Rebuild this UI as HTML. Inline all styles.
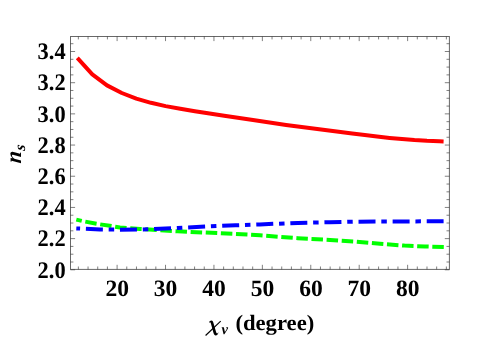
<!DOCTYPE html>
<html><head><meta charset="utf-8"><title>plot</title>
<style>
html,body{margin:0;padding:0;background:#fff;}
body{width:485px;height:339px;overflow:hidden;font-family:"Liberation Serif",serif;}
svg{display:block;will-change:transform;}
text{font-family:"Liberation Serif",serif;font-weight:bold;font-size:22px;fill:#000;text-rendering:geometricPrecision;}
</style></head><body>
<svg width="485" height="339" viewBox="0 0 485 339">

<g fill="none" stroke-linejoin="round">
<path d="M76.3,219.6 L85.0,221.6 L96.5,223.8 L111.6,226.1 L120.0,227.4 L140.0,229.0 L177.7,231.3 L235.5,233.9 L260.0,235.3 L297.7,238.2 L330.0,240.0 L355.5,241.7 L380.0,243.8 L404.4,245.6 L425.0,246.5 L443.9,247.1" stroke="#00ff00" stroke-width="4" stroke-dasharray="11.5 3.635" stroke-dashoffset="5.9"/>
<path d="M76.3,228.4 L100.0,229.4 L120.0,229.7 L140.0,229.6 L160.0,228.8 L177.7,227.9 L205.0,226.6 L235.5,225.3 L260.0,224.4 L297.7,222.9 L330.0,222.2 L355.5,221.7 L379.6,221.5 L443.6,221.3" stroke="#0000ff" stroke-width="4" stroke-dasharray="17 5.8 5.5 5.8" stroke-dashoffset="24.5"/>
<path d="M77.3,57.8 L92.3,74.3 L107.0,85.4 L121.8,93.0 L136.3,98.6 L151.0,102.8 L165.6,106.1 L180.3,108.8 L194.9,111.2 L209.6,113.5 L224.2,115.8 L253.0,120.1 L286.1,124.9 L319.2,129.2 L352.2,133.5 L364.8,135.1 L377.0,136.6 L389.6,137.9 L402.0,139.1 L414.4,140.1 L427.0,140.8 L439.2,141.2 L443.6,141.4" stroke="#ff0000" stroke-width="4"/>
</g>
<g stroke="#686868" stroke-width="1" fill="none">
<rect x="70.5" y="36.5" width="378.9" height="232.89999999999998"/>
</g>
<g stroke="#2c2c2c" stroke-width="0.6">
<line x1="78.36" y1="269.4" x2="78.36" y2="266.5"/><line x1="78.36" y1="36.5" x2="78.36" y2="39.4"/><line x1="88.05" y1="269.4" x2="88.05" y2="266.5"/><line x1="88.05" y1="36.5" x2="88.05" y2="39.4"/><line x1="97.73" y1="269.4" x2="97.73" y2="266.5"/><line x1="97.73" y1="36.5" x2="97.73" y2="39.4"/><line x1="107.42" y1="269.4" x2="107.42" y2="266.5"/><line x1="107.42" y1="36.5" x2="107.42" y2="39.4"/><line x1="117.10" y1="269.4" x2="117.10" y2="264.79999999999995"/><line x1="117.10" y1="36.5" x2="117.10" y2="41.1"/><line x1="126.78" y1="269.4" x2="126.78" y2="266.5"/><line x1="126.78" y1="36.5" x2="126.78" y2="39.4"/><line x1="136.47" y1="269.4" x2="136.47" y2="266.5"/><line x1="136.47" y1="36.5" x2="136.47" y2="39.4"/><line x1="146.15" y1="269.4" x2="146.15" y2="266.5"/><line x1="146.15" y1="36.5" x2="146.15" y2="39.4"/><line x1="155.84" y1="269.4" x2="155.84" y2="266.5"/><line x1="155.84" y1="36.5" x2="155.84" y2="39.4"/><line x1="165.52" y1="269.4" x2="165.52" y2="264.79999999999995"/><line x1="165.52" y1="36.5" x2="165.52" y2="41.1"/><line x1="175.20" y1="269.4" x2="175.20" y2="266.5"/><line x1="175.20" y1="36.5" x2="175.20" y2="39.4"/><line x1="184.89" y1="269.4" x2="184.89" y2="266.5"/><line x1="184.89" y1="36.5" x2="184.89" y2="39.4"/><line x1="194.57" y1="269.4" x2="194.57" y2="266.5"/><line x1="194.57" y1="36.5" x2="194.57" y2="39.4"/><line x1="204.26" y1="269.4" x2="204.26" y2="266.5"/><line x1="204.26" y1="36.5" x2="204.26" y2="39.4"/><line x1="213.94" y1="269.4" x2="213.94" y2="264.79999999999995"/><line x1="213.94" y1="36.5" x2="213.94" y2="41.1"/><line x1="223.62" y1="269.4" x2="223.62" y2="266.5"/><line x1="223.62" y1="36.5" x2="223.62" y2="39.4"/><line x1="233.31" y1="269.4" x2="233.31" y2="266.5"/><line x1="233.31" y1="36.5" x2="233.31" y2="39.4"/><line x1="242.99" y1="269.4" x2="242.99" y2="266.5"/><line x1="242.99" y1="36.5" x2="242.99" y2="39.4"/><line x1="252.68" y1="269.4" x2="252.68" y2="266.5"/><line x1="252.68" y1="36.5" x2="252.68" y2="39.4"/><line x1="262.36" y1="269.4" x2="262.36" y2="264.79999999999995"/><line x1="262.36" y1="36.5" x2="262.36" y2="41.1"/><line x1="272.04" y1="269.4" x2="272.04" y2="266.5"/><line x1="272.04" y1="36.5" x2="272.04" y2="39.4"/><line x1="281.73" y1="269.4" x2="281.73" y2="266.5"/><line x1="281.73" y1="36.5" x2="281.73" y2="39.4"/><line x1="291.41" y1="269.4" x2="291.41" y2="266.5"/><line x1="291.41" y1="36.5" x2="291.41" y2="39.4"/><line x1="301.10" y1="269.4" x2="301.10" y2="266.5"/><line x1="301.10" y1="36.5" x2="301.10" y2="39.4"/><line x1="310.78" y1="269.4" x2="310.78" y2="264.79999999999995"/><line x1="310.78" y1="36.5" x2="310.78" y2="41.1"/><line x1="320.46" y1="269.4" x2="320.46" y2="266.5"/><line x1="320.46" y1="36.5" x2="320.46" y2="39.4"/><line x1="330.15" y1="269.4" x2="330.15" y2="266.5"/><line x1="330.15" y1="36.5" x2="330.15" y2="39.4"/><line x1="339.83" y1="269.4" x2="339.83" y2="266.5"/><line x1="339.83" y1="36.5" x2="339.83" y2="39.4"/><line x1="349.52" y1="269.4" x2="349.52" y2="266.5"/><line x1="349.52" y1="36.5" x2="349.52" y2="39.4"/><line x1="359.20" y1="269.4" x2="359.20" y2="264.79999999999995"/><line x1="359.20" y1="36.5" x2="359.20" y2="41.1"/><line x1="368.88" y1="269.4" x2="368.88" y2="266.5"/><line x1="368.88" y1="36.5" x2="368.88" y2="39.4"/><line x1="378.57" y1="269.4" x2="378.57" y2="266.5"/><line x1="378.57" y1="36.5" x2="378.57" y2="39.4"/><line x1="388.25" y1="269.4" x2="388.25" y2="266.5"/><line x1="388.25" y1="36.5" x2="388.25" y2="39.4"/><line x1="397.94" y1="269.4" x2="397.94" y2="266.5"/><line x1="397.94" y1="36.5" x2="397.94" y2="39.4"/><line x1="407.62" y1="269.4" x2="407.62" y2="264.79999999999995"/><line x1="407.62" y1="36.5" x2="407.62" y2="41.1"/><line x1="417.30" y1="269.4" x2="417.30" y2="266.5"/><line x1="417.30" y1="36.5" x2="417.30" y2="39.4"/><line x1="426.99" y1="269.4" x2="426.99" y2="266.5"/><line x1="426.99" y1="36.5" x2="426.99" y2="39.4"/><line x1="436.67" y1="269.4" x2="436.67" y2="266.5"/><line x1="436.67" y1="36.5" x2="436.67" y2="39.4"/><line x1="446.36" y1="269.4" x2="446.36" y2="266.5"/><line x1="446.36" y1="36.5" x2="446.36" y2="39.4"/><line x1="70.5" y1="269.80" x2="75.1" y2="269.80"/><line x1="449.4" y1="269.80" x2="444.79999999999995" y2="269.80"/><line x1="70.5" y1="262.01" x2="73.4" y2="262.01"/><line x1="449.4" y1="262.01" x2="446.5" y2="262.01"/><line x1="70.5" y1="254.21" x2="73.4" y2="254.21"/><line x1="449.4" y1="254.21" x2="446.5" y2="254.21"/><line x1="70.5" y1="246.41" x2="73.4" y2="246.41"/><line x1="449.4" y1="246.41" x2="446.5" y2="246.41"/><line x1="70.5" y1="238.62" x2="75.1" y2="238.62"/><line x1="449.4" y1="238.62" x2="444.79999999999995" y2="238.62"/><line x1="70.5" y1="230.82" x2="73.4" y2="230.82"/><line x1="449.4" y1="230.82" x2="446.5" y2="230.82"/><line x1="70.5" y1="223.02" x2="73.4" y2="223.02"/><line x1="449.4" y1="223.02" x2="446.5" y2="223.02"/><line x1="70.5" y1="215.23" x2="73.4" y2="215.23"/><line x1="449.4" y1="215.23" x2="446.5" y2="215.23"/><line x1="70.5" y1="207.43" x2="75.1" y2="207.43"/><line x1="449.4" y1="207.43" x2="444.79999999999995" y2="207.43"/><line x1="70.5" y1="199.63" x2="73.4" y2="199.63"/><line x1="449.4" y1="199.63" x2="446.5" y2="199.63"/><line x1="70.5" y1="191.84" x2="73.4" y2="191.84"/><line x1="449.4" y1="191.84" x2="446.5" y2="191.84"/><line x1="70.5" y1="184.04" x2="73.4" y2="184.04"/><line x1="449.4" y1="184.04" x2="446.5" y2="184.04"/><line x1="70.5" y1="176.24" x2="75.1" y2="176.24"/><line x1="449.4" y1="176.24" x2="444.79999999999995" y2="176.24"/><line x1="70.5" y1="168.45" x2="73.4" y2="168.45"/><line x1="449.4" y1="168.45" x2="446.5" y2="168.45"/><line x1="70.5" y1="160.65" x2="73.4" y2="160.65"/><line x1="449.4" y1="160.65" x2="446.5" y2="160.65"/><line x1="70.5" y1="152.85" x2="73.4" y2="152.85"/><line x1="449.4" y1="152.85" x2="446.5" y2="152.85"/><line x1="70.5" y1="145.06" x2="75.1" y2="145.06"/><line x1="449.4" y1="145.06" x2="444.79999999999995" y2="145.06"/><line x1="70.5" y1="137.26" x2="73.4" y2="137.26"/><line x1="449.4" y1="137.26" x2="446.5" y2="137.26"/><line x1="70.5" y1="129.47" x2="73.4" y2="129.47"/><line x1="449.4" y1="129.47" x2="446.5" y2="129.47"/><line x1="70.5" y1="121.67" x2="73.4" y2="121.67"/><line x1="449.4" y1="121.67" x2="446.5" y2="121.67"/><line x1="70.5" y1="113.87" x2="75.1" y2="113.87"/><line x1="449.4" y1="113.87" x2="444.79999999999995" y2="113.87"/><line x1="70.5" y1="106.08" x2="73.4" y2="106.08"/><line x1="449.4" y1="106.08" x2="446.5" y2="106.08"/><line x1="70.5" y1="98.28" x2="73.4" y2="98.28"/><line x1="449.4" y1="98.28" x2="446.5" y2="98.28"/><line x1="70.5" y1="90.48" x2="73.4" y2="90.48"/><line x1="449.4" y1="90.48" x2="446.5" y2="90.48"/><line x1="70.5" y1="82.69" x2="75.1" y2="82.69"/><line x1="449.4" y1="82.69" x2="444.79999999999995" y2="82.69"/><line x1="70.5" y1="74.89" x2="73.4" y2="74.89"/><line x1="449.4" y1="74.89" x2="446.5" y2="74.89"/><line x1="70.5" y1="67.09" x2="73.4" y2="67.09"/><line x1="449.4" y1="67.09" x2="446.5" y2="67.09"/><line x1="70.5" y1="59.30" x2="73.4" y2="59.30"/><line x1="449.4" y1="59.30" x2="446.5" y2="59.30"/><line x1="70.5" y1="51.50" x2="75.1" y2="51.50"/><line x1="449.4" y1="51.50" x2="444.79999999999995" y2="51.50"/><line x1="70.5" y1="43.70" x2="73.4" y2="43.70"/><line x1="449.4" y1="43.70" x2="446.5" y2="43.70"/>
</g>
<g><text transform="translate(117.2,295.55) scale(1.07,1.065)" text-anchor="middle">20</text><text transform="translate(165.6,295.55) scale(1.07,1.065)" text-anchor="middle">30</text><text transform="translate(214.0,295.55) scale(1.07,1.065)" text-anchor="middle">40</text><text transform="translate(262.5,295.55) scale(1.07,1.065)" text-anchor="middle">50</text><text transform="translate(310.9,295.55) scale(1.07,1.065)" text-anchor="middle">60</text><text transform="translate(359.3,295.55) scale(1.07,1.065)" text-anchor="middle">70</text><text transform="translate(407.7,295.55) scale(1.07,1.065)" text-anchor="middle">80</text></g>
<g><text transform="translate(65.6,277.5) scale(1.02,1.08)" text-anchor="end">2.0</text><text transform="translate(65.6,246.3) scale(1.02,1.08)" text-anchor="end">2.2</text><text transform="translate(65.6,215.1) scale(1.02,1.08)" text-anchor="end">2.4</text><text transform="translate(65.6,183.9) scale(1.02,1.08)" text-anchor="end">2.6</text><text transform="translate(65.6,152.8) scale(1.02,1.08)" text-anchor="end">2.8</text><text transform="translate(65.6,121.6) scale(1.02,1.08)" text-anchor="end">3.0</text><text transform="translate(65.6,90.4) scale(1.02,1.08)" text-anchor="end">3.2</text><text transform="translate(65.6,59.2) scale(1.02,1.08)" text-anchor="end">3.4</text></g>
<path d="M209.0,322.6 C209.2,321.2 210.4,320.5 211.5,320.5 C212.5,320.5 212.9,321.3 213.3,322.6 L216.0,331.8 C216.4,333.2 216.9,333.7 217.4,333.4 C217.7,333.2 217.9,332.8 218.1,332.4 L218.4,332.6 C218.1,334.4 216.9,335.5 215.8,335.5 C214.6,335.5 214.0,334.6 213.5,333.0 L210.9,323.6 C210.6,322.6 210.3,322.1 209.9,322.2 C209.6,322.3 209.4,322.5 209.3,322.8 Z" fill="#000"/>
<path d="M205.6,335.5 L220.7,321.2" stroke="#000" stroke-width="1.15" fill="none"/>
<text transform="translate(221.4,333.5)" style="font-style:italic;font-size:14.6px">v</text>
<text transform="translate(235.4,330.4) scale(1.03,1)">(degree)</text>
<text transform="translate(20.8,163.8) rotate(-90) scale(1.0,1.03) skewX(-6)" style="font-style:italic">n</text>
<text transform="translate(24.5,151.1) rotate(-90) skewX(-6)" style="font-style:italic;font-size:15.6px">s</text>
</svg>
</body></html>
